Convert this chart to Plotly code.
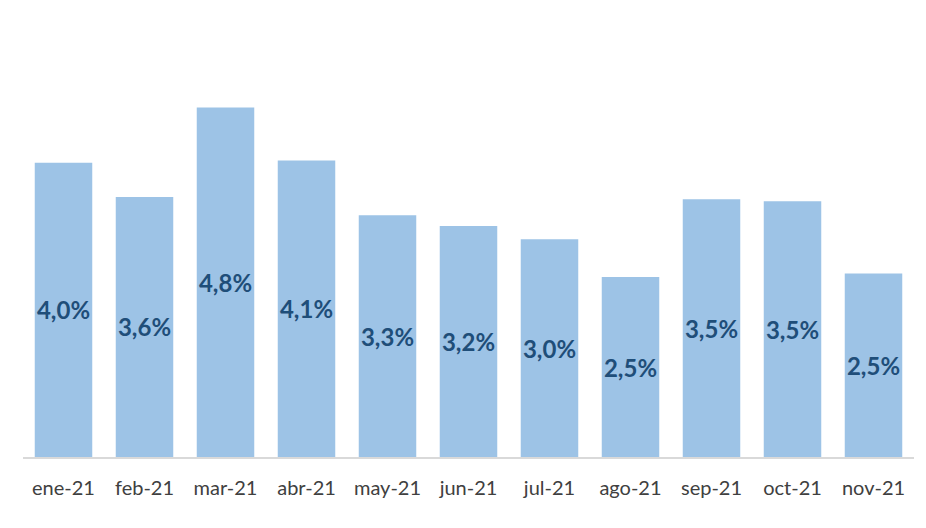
import plotly.graph_objects as go

months = ["ene-21", "feb-21", "mar-21", "abr-21", "may-21", "jun-21",
          "jul-21", "ago-21", "sep-21", "oct-21", "nov-21"]
values = [4.04, 3.57, 4.80, 4.07, 3.32, 3.17, 2.99, 2.47, 3.54, 3.51, 2.52]

fig = go.Figure(go.Bar(
    x=months,
    y=values,
    marker=dict(color="#9DC3E6", line=dict(width=0)),
    texttemplate="%{y:.1f}%",
    textposition="inside",
    insidetextanchor="middle",
    textangle=0,
    textfont=dict(family="Lato", size=24, color="#1F4E79", weight="bold"),
    constraintext="none",
    hoverinfo="skip",
))

fig.update_layout(
    width=926, height=528,
    margin=dict(l=15, r=20, t=12, b=79),
    paper_bgcolor="white",
    plot_bgcolor="white",
    separators=",.",
    bargap=0.29,
    showlegend=False,
    xaxis=dict(
        showline=True, linecolor="#D9D9D9", linewidth=1.5,
        ticks="", showgrid=False,
        ticklabelstandoff=12,
        tickfont=dict(family="Lato", size=20, color="#404040"),
    ),
    yaxis=dict(range=[0, 6], visible=False, showgrid=False),
)

fig.write_html("out.html")
